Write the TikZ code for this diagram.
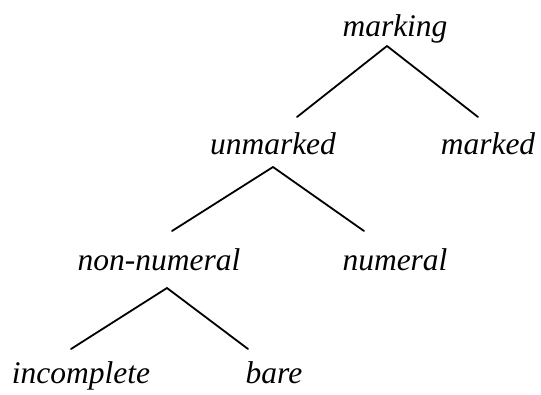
\documentclass[tikz,border=0pt]{standalone}
\usepackage{fontspec}
\setmainfont{Liberation Serif}
\begin{document}
\begin{tikzpicture}[x=1pt,y=1pt,
  lbl/.style={anchor=base,inner sep=0pt,font=\fontsize{31.5}{36}\selectfont\itshape},
  edge/.style={line width=1.8pt,line cap=round}]
\useasboundingbox (0,0) rectangle (541,394);
\node[lbl] (marking) at (395,357) {marking};
\node[lbl] (unmarked) at (273,239) {unmarked};
\node[lbl] (marked) at (488,239) {marked};
\node[lbl] (nonnumeral) at (159,124) {non-numeral};
\node[lbl] (numeral) at (395,124) {numeral};
\node[lbl] (incomplete) at (81,11) {incomplete};
\node[lbl] (bare) at (274,11) {bare};
\draw[edge] ([shift={(-8pt,-9pt)}]marking.base) -- ([shift={(24pt,38pt)}]unmarked.base);
\draw[edge] ([shift={(-8pt,-9pt)}]marking.base) -- ([shift={(-10pt,38pt)}]marked.base);
\draw[edge] ([shift={(0pt,-12pt)}]unmarked.base) -- ([shift={(13pt,39pt)}]nonnumeral.base);
\draw[edge] ([shift={(0pt,-12pt)}]unmarked.base) -- ([shift={(-31pt,39pt)}]numeral.base);
\draw[edge] ([shift={(8pt,-18pt)}]nonnumeral.base) -- ([shift={(-10pt,34pt)}]incomplete.base);
\draw[edge] ([shift={(8pt,-18pt)}]nonnumeral.base) -- ([shift={(-26pt,34pt)}]bare.base);
\end{tikzpicture}
\end{document}
